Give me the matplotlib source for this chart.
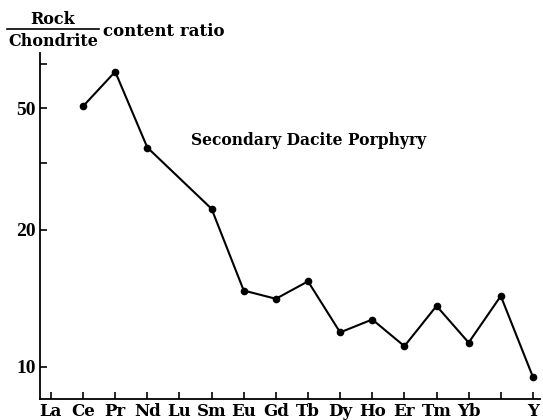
"""REE chondrite-normalised pattern for the secondary dacite porphyry."""
import matplotlib
matplotlib.use("Agg")
import matplotlib.pyplot as plt
from matplotlib.lines import Line2D
import numpy as np

# element slots along the x axis (one slot is left unlabeled)
ELEMENTS = ["La", "Ce", "Pr", "Nd", "Lu", "Sm", "Eu", "Gd", "Tb", "Dy",
            "Ho", "Er", "Tm", "Yb", "", "Y"]
# rock / chondrite ratio per slot, None where nothing was measured
RATIO = [None, 50.8, 66.0, 37.2, None, 23.4, 14.7, 14.1, 15.4, 11.9,
         12.7, 11.1, 13.6, 11.3, 14.3, 9.5]

Y_MAJOR = [10, 20, 50]
Y_MINOR = [33, 70]

# The printed ratio axis is logarithmic but its decades are not evenly
# stretched: the 10-20 stretch is drawn longer than 20-50.
T_LO, T_MID = np.log10(10), np.log10(20)
P_MID = 137.0
S_LO = P_MID / (T_MID - T_LO)
S_HI = 121.0 / (np.log10(50) - T_MID)


def fwd(v):
    t = np.log10(np.clip(np.asarray(v, dtype=float), 1e-3, None))
    return np.where(t < T_MID, (t - T_LO) * S_LO, P_MID + (t - T_MID) * S_HI)


def inv(p):
    p = np.asarray(p, dtype=float)
    t = np.where(p < P_MID, T_LO + p / S_LO, T_MID + (p - P_MID) / S_HI)
    return 10 ** t


TEXT_FONT = "DejaVu Serif"
NUM_FONT = "Liberation Serif"

fig = plt.figure(figsize=(5.43, 4.2), dpi=100)
ax = fig.add_axes([40 / 543, 21 / 420, 500 / 543, 346 / 420])

xs = [i for i, v in enumerate(RATIO) if v is not None]
ys = [v for v in RATIO if v is not None]
ax.plot(xs, ys, color="black", lw=1.5, marker="o", ms=4.5,
        mfc="black", mec="black", clip_on=False, zorder=3)

ax.set_yscale("function", functions=(fwd, inv))
ax.set_ylim(8.5, 76)
ax.set_xlim(-0.34, 15.22)

ax.set_yticks(Y_MAJOR)
ax.set_yticklabels([str(v) for v in Y_MAJOR])
ax.set_yticks(Y_MINOR, minor=True)
ax.set_xticks(range(len(ELEMENTS)))
ax.set_xticklabels(ELEMENTS)

for spine in ("top", "right"):
    ax.spines[spine].set_visible(False)
for spine in ("left", "bottom"):
    ax.spines[spine].set_linewidth(1.3)

ax.tick_params(axis="both", which="both", direction="in", width=1.2,
               color="black")
ax.tick_params(axis="y", which="major", length=5, pad=3)
ax.tick_params(axis="y", which="minor", length=5)
ax.tick_params(axis="x", length=5, pad=3)
for lab in ax.get_xticklabels():
    lab.set_fontfamily(TEXT_FONT)
    lab.set_fontweight("bold")
    lab.set_fontsize(12)
for lab in ax.get_yticklabels():
    lab.set_fontfamily(NUM_FONT)
    lab.set_fontweight("bold")
    lab.set_fontsize(14)

ax.text(0.538, 0.746, "Secondary Dacite Porphyry", transform=ax.transAxes,
        ha="center", va="center", fontsize=11.2, fontweight="bold",
        family=TEXT_FONT)

# stacked "Rock / Chondrite" label with the fraction bar
fig.text(53 / 543, 1 - 20 / 420, "Rock", ha="center", va="center",
         fontsize=11.5, fontweight="bold", family=TEXT_FONT)
fig.text(53 / 543, 1 - 41 / 420, "Chondrite", ha="center", va="center",
         fontsize=11.5, fontweight="bold", family=TEXT_FONT)
fig.add_artist(Line2D([7 / 543, 99 / 543], [1 - 29 / 420, 1 - 29 / 420],
                      color="black", lw=1.2, transform=fig.transFigure))
fig.text(103 / 543, 1 - 31 / 420, "content ratio", ha="left", va="center",
         fontsize=12, fontweight="bold", family=TEXT_FONT)

fig.savefig("out.png", dpi=100, facecolor="white")
